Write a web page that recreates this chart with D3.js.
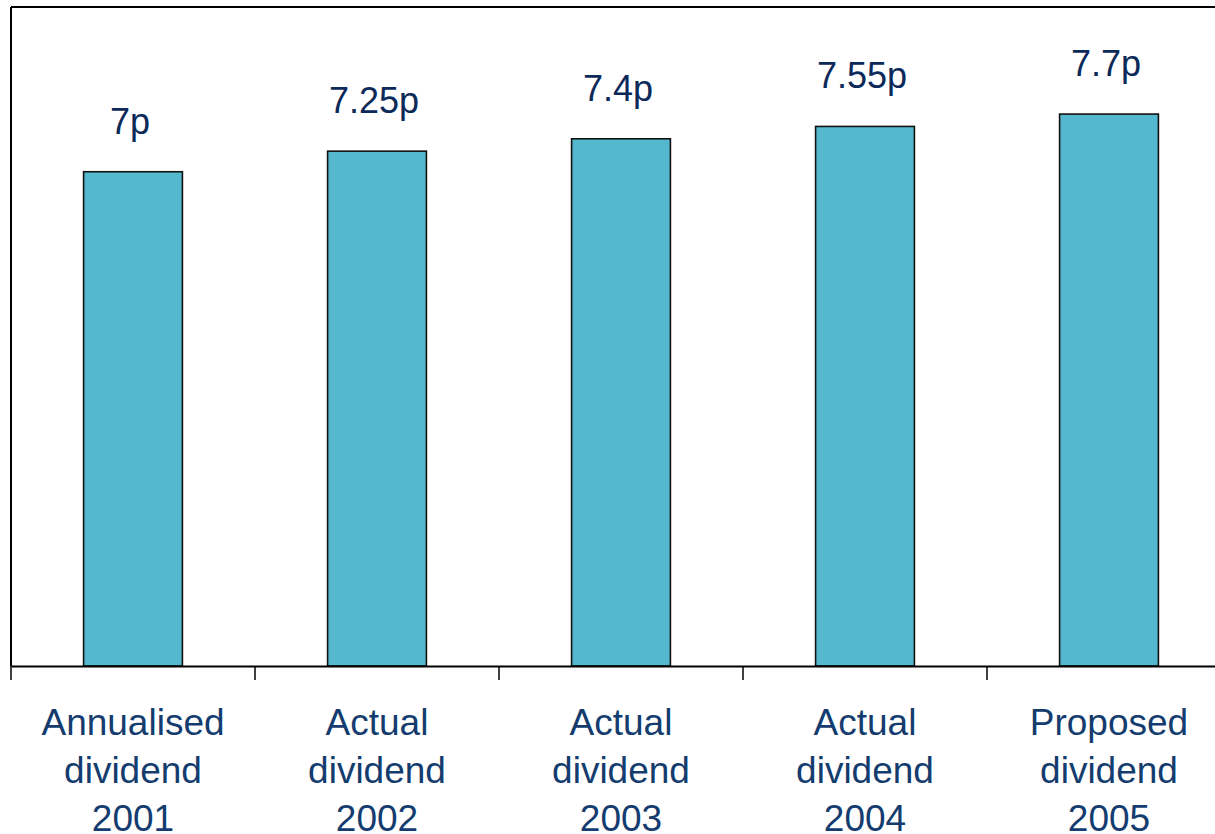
<!DOCTYPE html>
<html>
<head>
<meta charset="utf-8">
<script src="https://cdn.jsdelivr.net/npm/d3@7"></script>
<style>
  html, body { margin: 0; padding: 0; background: #ffffff; }
  svg { display: block; }
</style>
</head>
<body>
<svg id="chart" width="1215" height="834"></svg>
<script>
const categories = ["Annualised dividend 2001", "Actual dividend 2002", "Actual dividend 2003", "Actual dividend 2004", "Proposed dividend 2005"];
const categoryLines = [["Annualised", "dividend", "2001"], ["Actual", "dividend", "2002"], ["Actual", "dividend", "2003"], ["Actual", "dividend", "2004"], ["Proposed", "dividend", "2005"]];
const values = [7, 7.25, 7.4, 7.55, 7.7];
const valueLabels = ["7p", "7.25p", "7.4p", "7.55p", "7.7p"];

(function () {
const svg = d3.select("#chart");
const plotLeft = 11, plotRight = 1231, plotTop = 7, plotBottom = 666;

const x = d3.scaleBand().domain(categories).range([plotLeft, plotRight]).padding(0);
const y = d3.scaleLinear().domain([1, 9]).range([plotBottom, plotTop]);
const barW = x.bandwidth() * 0.405;

// frame (top and left)
svg.append("line").attr("x1", plotLeft).attr("x2", 1215).attr("y1", plotTop).attr("y2", plotTop)
  .attr("stroke", "#000").attr("stroke-width", 2);
svg.append("line").attr("x1", plotLeft).attr("x2", plotLeft).attr("y1", plotTop).attr("y2", plotBottom)
  .attr("stroke", "#000").attr("stroke-width", 2);

// bars
svg.selectAll("rect.bar").data(values).enter().append("rect")
  .attr("class", "bar")
  .attr("x", (d, i) => x(categories[i]) + (x.bandwidth() - barW) / 2)
  .attr("width", barW)
  .attr("y", d => y(d))
  .attr("height", d => plotBottom - y(d))
  .attr("fill", "#54b9cf")
  .attr("stroke", "#111")
  .attr("stroke-width", 1.6);

// x axis
const xAxis = d3.axisBottom(x).tickSize(0).tickFormat("");
const ax = svg.append("g").attr("transform", `translate(0,${plotBottom})`).call(xAxis);
ax.select(".domain").attr("stroke", "#000").attr("stroke-width", 2);
// tick marks at category boundaries
const bounds = categories.map(c => x(c)).concat([plotRight]);
svg.selectAll("line.tk").data(bounds).enter().append("line")
  .attr("class", "tk")
  .attr("x1", d => d).attr("x2", d => d)
  .attr("y1", plotBottom).attr("y2", plotBottom + 14)
  .attr("stroke", "#000").attr("stroke-width", 1.5);

// value labels
svg.selectAll("text.val").data(values).enter().append("text")
  .attr("class", "val")
  .attr("x", (d, i) => x(categories[i]) + x.bandwidth() / 2 - 3)
  .attr("y", d => y(d) - 38)
  .attr("text-anchor", "middle")
  .attr("font-family", "Liberation Sans, Arial, sans-serif")
  .attr("font-size", 36)
  .attr("fill", "#0b2a5a")
  .text((d, i) => valueLabels[i]);

// category labels
categoryLines.forEach((lines, i) => {
  const t = svg.append("text")
    .attr("text-anchor", "middle")
    .attr("font-family", "Liberation Sans, Arial, sans-serif")
    .attr("font-size", 37)
    .attr("fill", "#143c6e");
  lines.forEach((ln, j) => {
    t.append("tspan")
      .attr("x", x(categories[i]) + x.bandwidth() / 2)
      .attr("y", 735 + j * 48)
      .text(ln);
  });
});
})();
</script>
</body>
</html>
